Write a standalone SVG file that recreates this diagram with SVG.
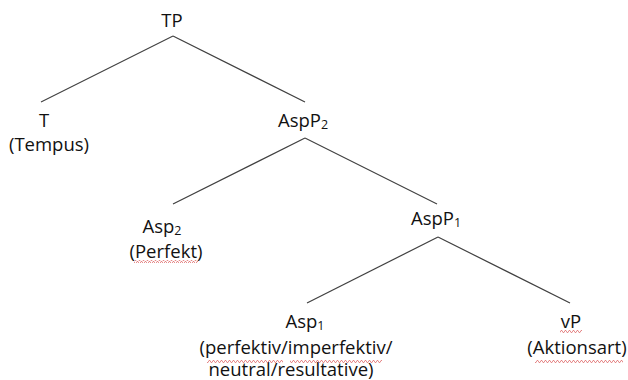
<svg xmlns="http://www.w3.org/2000/svg" width="628" height="380" viewBox="0 0 628 380">
<style>
text{font-family:"Open Sans","Liberation Sans",Arial,sans-serif;font-size:18.5px;fill:#111;text-anchor:middle}
.sub{font-size:12.5px}
.edge{stroke:#404040;stroke-width:1.2;fill:none}
</style>
<defs>
<pattern id="squig" width="4" height="3" patternUnits="userSpaceOnUse">
<path d="M0,2.5 L1,0.5 L2,0.5 L3,2.5 L4,2.5" stroke="#e07070" stroke-width="0.8" fill="none"/>
</pattern>
</defs>
<rect width="628" height="380" fill="#fff"/>
<g id="connectors">
<line class="edge" x1="173" y1="36" x2="41" y2="102"/>
<line class="edge" x1="173" y1="36" x2="305" y2="102"/>
<line class="edge" x1="305" y1="138" x2="173" y2="204"/>
<line class="edge" x1="305" y1="138" x2="437" y2="204"/>
<line class="edge" x1="438" y1="237" x2="307" y2="303"/>
<line class="edge" x1="438" y1="237" x2="570" y2="303"/>
</g>
<g id="node-TP"><text x="172" y="27">TP</text></g>
<g id="node-T"><text x="44" y="127">T</text><text x="49" y="151">(Tempus)</text></g>
<g id="node-AspP2"><text x="303" y="127">AspP<tspan class="sub" dy="1.5">2</tspan></text></g>
<g id="node-Asp2"><text x="162" y="233">Asp<tspan class="sub" dy="1.5">2</tspan></text><text x="166" y="258">(Perfekt)</text>
<rect x="134" y="260" width="64" height="3" fill="url(#squig)"/></g>
<g id="node-AspP1"><text x="436" y="225">AspP<tspan class="sub" dy="1.5">1</tspan></text></g>
<g id="node-Asp1"><text x="305" y="328">Asp<tspan class="sub" dy="1.5">1</tspan></text>
<text><tspan x="296" y="354">(perfektiv/imperfektiv/</tspan><tspan x="291" y="375.5">neutral/resultative)</tspan></text>
<rect x="207" y="360" width="76" height="3" fill="url(#squig)"/>
<rect x="290" y="360" width="92" height="3" fill="url(#squig)"/></g>
<g id="node-vP"><text x="571" y="328">vP</text>
<text x="577" y="354">(Aktionsart)</text>
<rect x="560" y="330" width="22" height="3" fill="url(#squig)"/>
<rect x="535" y="360" width="88" height="3" fill="url(#squig)"/></g>
</svg>
